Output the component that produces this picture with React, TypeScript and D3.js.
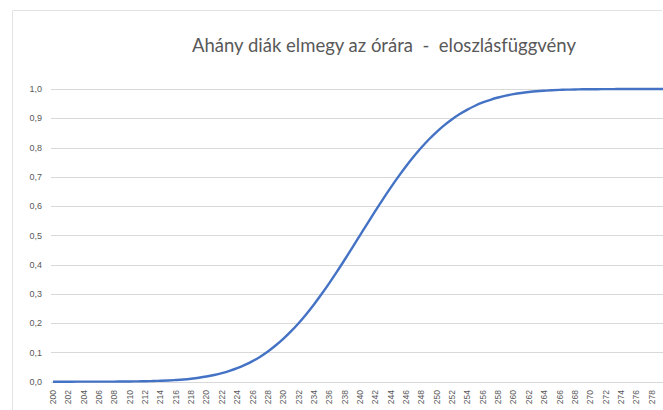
import React from "react";
import * as d3 from "d3";

const TITLE = "Ahány diák elmegy az órára  -  eloszlásfüggvény";

// number of students (category axis)
const categories: number[] = d3.range(200, 281);

// cumulative share, one per category 200..280
const values: number[] = [
  0.0000, 0.0000, 0.0000, 0.0001, 0.0001, 0.0001, 0.0002, 0.0003, 0.0004, 0.0006,
  0.0008, 0.0011, 0.0016, 0.0022, 0.0031, 0.0042, 0.0058, 0.0077, 0.0103, 0.0135,
  0.0176, 0.0228, 0.0291, 0.0368, 0.0461, 0.0572, 0.0703, 0.0856, 0.1033, 0.1235,
  0.1462, 0.1717, 0.1999, 0.2306, 0.2638, 0.2994, 0.3369, 0.3760, 0.4166, 0.4581,
  0.5000, 0.5419, 0.5834, 0.6240, 0.6631, 0.7006, 0.7362, 0.7694, 0.8001, 0.8283,
  0.8538, 0.8765, 0.8967, 0.9144, 0.9297, 0.9428, 0.9539, 0.9632, 0.9709, 0.9772,
  0.9824, 0.9865, 0.9897, 0.9923, 0.9942, 0.9958, 0.9969, 0.9978, 0.9984, 0.9989,
  0.9992, 0.9994, 0.9996, 0.9997, 0.9998, 0.9999, 1.0000, 1.0000, 1.0000, 1.0000,
  1.0000,
];

const yTicks: number[] = [0, 0.1, 0.2, 0.3, 0.4, 0.5, 0.6, 0.7, 0.8, 0.9, 1.0];
const xLabels: number[] = d3.range(200, 280, 2);

export default function App() {
  const W = 663;
  const H = 410;
  const x = d3.scalePoint<number>().domain(categories).range([53, 53 + 80 * 7.675]);
  const y = d3.scaleLinear().domain([0, 1]).range([381.7, 89]);
  const line = d3
    .line<number>()
    .x((_, i) => x(categories[i]) as number)
    .y((d) => y(d))
    .curve(d3.curveMonotoneX);

  const fmt = (v: number) => v.toFixed(1).replace(".", ",");

  return (
    <div style={{ position: "fixed", left: 0, top: 0, width: W, height: H, background: "#fff" }}>
      <svg width={W} height={H} style={{ display: "block" }}>
        <rect x={0} y={0} width={W} height={H} fill="#ffffff" />
        <path d="M12.5,420 L12.5,10.5 L662,10.5" fill="none" stroke="#e3e3e3" strokeWidth={1} />
        <text
          x={384}
          y={52}
          textAnchor="middle"
          fontFamily="Lato, 'Open Sans', sans-serif"
          fontSize={18.5}
          fill="#595959"
          style={{ whiteSpace: "pre" }}
        >
          {TITLE}
        </text>
        {yTicks.map((t) => (
          <g key={t}>
            <line x1={51} x2={W} y1={Math.round(y(t)) + 0.5} y2={Math.round(y(t)) + 0.5} stroke="#d9d9d9" strokeWidth={1} />
            <text
              x={42}
              y={y(t)}
              dy="0.35em"
              textAnchor="end"
              fontFamily="'Liberation Sans', Arial, sans-serif"
              fontSize={9}
              fill="#595959"
            >
              {fmt(t)}
            </text>
          </g>
        ))}
        <path d={line(values) || ""} fill="none" stroke="#4472C4" strokeWidth={2.4} strokeLinejoin="round" />
        {xLabels.map((c) => (
          <text
            key={c}
            transform={`translate(${x(c)},390) rotate(-90)`}
            textAnchor="end"
            dy="0.35em"
            fontFamily="'Liberation Sans', Arial, sans-serif"
            fontSize={8.5}
            fill="#595959"
          >
            {c}
          </text>
        ))}
      </svg>
    </div>
  );
}
